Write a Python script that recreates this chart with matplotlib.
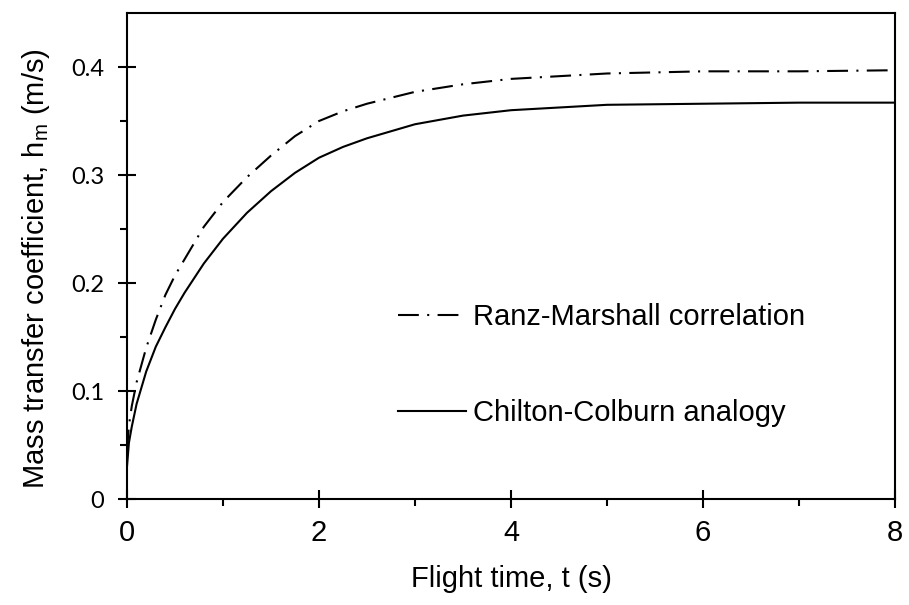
"""
Mass transfer coefficient vs flight time (Ranz-Marshall vs Chilton-Colburn).
"""

import matplotlib
matplotlib.use('Agg')  # Non-interactive backend
import matplotlib.pyplot as plt
import matplotlib.ticker as mticker

# Data
flight_time = [0, 0.02, 0.05, 0.1, 0.2, 0.3, 0.4, 0.5, 0.6, 0.8, 1.0, 1.25,
               1.5, 1.75, 2.0, 2.25, 2.5, 3.0, 3.5, 4.0, 5.0, 6.0, 7.0, 8.0]
hm_chilton = [0.030, 0.052, 0.067, 0.088, 0.118, 0.141, 0.159, 0.176, 0.191,
              0.218, 0.241, 0.265, 0.285, 0.302, 0.316, 0.326, 0.334, 0.347,
              0.355, 0.360, 0.365, 0.366, 0.367, 0.367]
hm_ranz = [0.045, 0.068, 0.086, 0.108, 0.140, 0.166, 0.189, 0.207, 0.222,
           0.252, 0.275, 0.298, 0.318, 0.336, 0.350, 0.359, 0.366, 0.377,
           0.384, 0.389, 0.394, 0.396, 0.396, 0.397]

label_ranz = 'Ranz-Marshall correlation'
label_chilton = 'Chilton-Colburn analogy'

fig = plt.figure(figsize=(9.09, 6.05), dpi=100)
ax = fig.add_axes([0.1397, 0.1752, 0.8449, 0.8033])

ax.plot(flight_time, hm_ranz, color='black', linewidth=1.5,
        dashes=(10, 4, 1, 4), label=label_ranz)
ax.plot(flight_time, hm_chilton, color='black', linewidth=1.5,
        label=label_chilton)

ax.set_xlim(0, 8)
ax.set_ylim(0, 0.45)

# Ticks: major cross the spine, minor point out
ax.xaxis.set_major_locator(mticker.MultipleLocator(2))
ax.xaxis.set_minor_locator(mticker.MultipleLocator(1))
ax.yaxis.set_major_locator(mticker.FixedLocator([0, 0.1, 0.2, 0.3, 0.4]))
ax.yaxis.set_minor_locator(mticker.FixedLocator([0.05, 0.15, 0.25, 0.35]))
ax.yaxis.set_major_formatter(mticker.FuncFormatter(lambda v, p: f'{v:g}'))
ax.tick_params(which='major', direction='inout', length=12.5, width=1.5)
ax.tick_params(which='minor', direction='out', length=5, width=1.5)
ax.tick_params(axis='x', which='major', labelsize=21, pad=8)
ax.tick_params(axis='y', which='major', labelsize=17, pad=10)
for lbl in ax.get_xticklabels():
    lbl.set_family('Liberation Sans')
for lbl in ax.get_yticklabels():
    lbl.set_family('Lato')

for spine in ax.spines.values():
    spine.set_linewidth(1.5)

ax.set_xlabel('Flight time, t (s)', fontsize=21, family='Liberation Sans',
              labelpad=13)
ax.set_ylabel(r'Mass transfer coefficient, h$_{\mathregular{m}}$ (m/s)',
              fontsize=21, family='Liberation Sans')
ax.yaxis.set_label_coords(-0.0977, 0.475)

ax.legend(loc='center left', bbox_to_anchor=(0.353, 0.2757), frameon=False,
          prop={'family': 'Liberation Sans', 'size': 21},
          handlelength=2.33, handletextpad=0.24, labelspacing=2.34,
          borderpad=0, borderaxespad=0)

plt.savefig('out.png', dpi=100)
plt.close()
